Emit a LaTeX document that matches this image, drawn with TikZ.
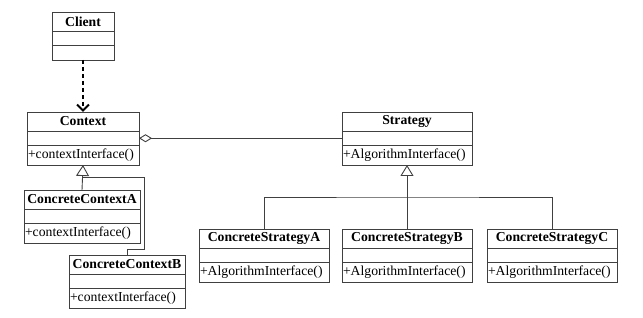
\documentclass[tikz,border=0pt]{standalone}
\usepackage{fontspec}
\setmainfont{Liberation Serif}
\usetikzlibrary{positioning,arrows.meta}

\newcommand{\umlfont}{\fontsize{13.7}{16}\selectfont}

\tikzset{
  box/.style={draw=black!75, line width=0.9pt, inner sep=0pt, outer sep=0pt},
  classtitle/.style={box, minimum height=19pt, font=\umlfont\bfseries},
  classattr/.style={box, minimum height=14.5pt},
  classop/.style={box, minimum height=19.5pt, align=left, inner xsep=1pt},
  link/.style={draw=black!75, line width=0.9pt},
  inherit/.style={link, -{Triangle[open,length=11pt,width=13pt]}},
  aggregate/.style={link, {Diamond[open,length=13pt,width=8pt]}-},
  depend/.style={line width=2.6pt, dash pattern=on 4pt off 3pt,
    -{Straight Barb[length=6pt,width=12pt,line width=2pt]}},
}

% one class box: name, top-centre, width, title, operation
\newcommand{\umlclass}[5]{
  \node[classtitle, minimum width=#3, anchor=north] (#1) at (#2) {#4};
  \node[classattr, minimum width=#3, below=0pt of #1] (#1-a) {};
  \node[classop, text width=#3-2pt, below=0pt of #1-a] (#1-m) {#5};
}

\begin{document}
\begin{tikzpicture}[x=1pt, y=-1pt, font=\umlfont]
  \useasboundingbox (0,0) rectangle (643,318);

  % client
  \node[classtitle, minimum width=62pt, anchor=north] (client) at (83,12) {Client};
  \node[classattr, minimum width=62pt, below=0pt of client] (client-a) {};
  \node[classattr, minimum width=62pt, below=0pt of client-a] (client-m) {};

  \umlclass{context}{83,112}{112pt}{Context}{+contextInterface()}
  \umlclass{strategy}{407,112}{130pt}{Strategy}{+AlgorithmInterface()}

  \umlclass{csa}{264,229}{130pt}{ConcreteStrategyA}{+AlgorithmInterface()}
  \umlclass{csb}{407,229}{130pt}{ConcreteStrategyB}{+AlgorithmInterface()}
  \umlclass{csc}{552,229}{130pt}{ConcreteStrategyC}{+AlgorithmInterface()}

  \umlclass{cca}{82,190}{116pt}{ConcreteContextA}{+contextInterface()}
  \umlclass{ccb}{127,255}{116pt}{ConcreteContextB}{+contextInterface()}

  % client uses context
  \draw[depend] (client-m.south) -- (context.north);

  % context holds a strategy
  \draw[aggregate] (context-a.east) -- (strategy-a.west);

  % strategy hierarchy
  \coordinate (sjoin) at (407,197);
  \draw[inherit] (csb.north) -- (strategy-m.south);
  \draw[link] (csa.north) |- (sjoin) -| (csc.north);

  % context hierarchy
  \coordinate (cjoin) at (82,177);
  \coordinate (cbend) at (144,249);
  \draw[inherit] (cca.north) -- (context-m.south);
  \draw[link] (cjoin) -| (cbend) -| (ccb.north);
\end{tikzpicture}
\end{document}
